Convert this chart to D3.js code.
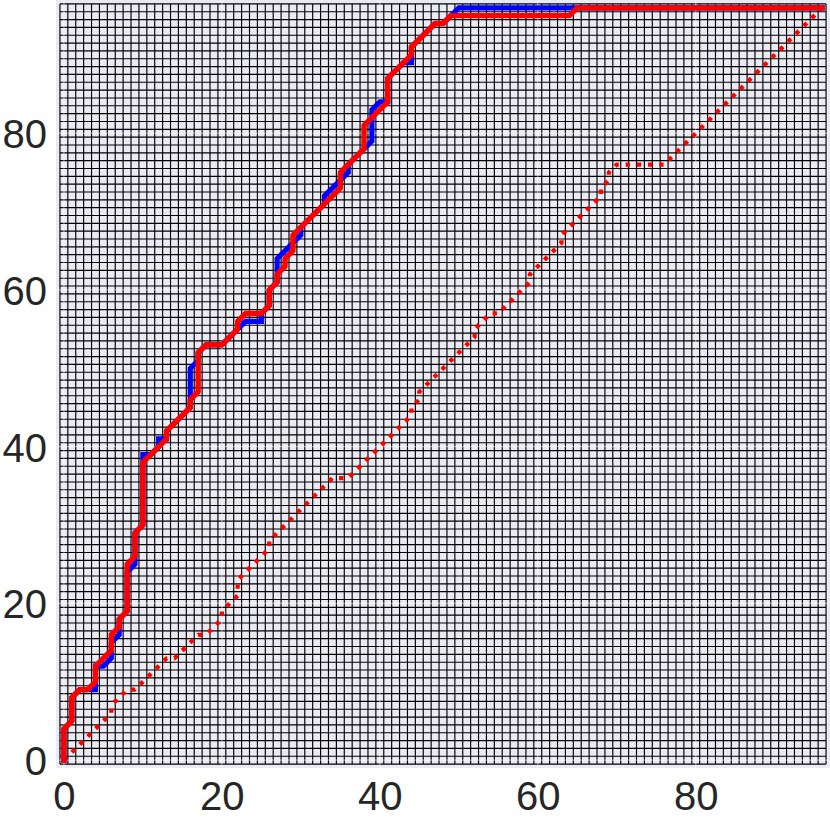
<!DOCTYPE html>
<html>
<head>
<meta charset="utf-8">
<script src="https://cdn.jsdelivr.net/npm/d3@7"></script>
<style>
  html, body { margin: 0; padding: 0; background: #ffffff; }
  svg { display: block; }
</style>
</head>
<body>
<svg id="chart" width="830" height="817"></svg>
<script>
// ---- data ----
const gridCells = 97;               // cost-matrix cells per side (indices 0..96)
const xTicks = [0, 20, 40, 60, 80];
const yTicks = [0, 20, 40, 60, 80];

// warping path A (red, solid) – corner vertices [i, j]
const redPath = [[0,0],[0,4],[1,5],[1,8],[2,9],[3,9],[4,10],[4,12],[6,14],[6,16],[7,17],[7,18],[8,19],[8,25],[9,26],[9,29],[10,30],[10,38],[13,41],[13,42],[16,45],[16,46],[17,47],[17,52],[18,53],[20,53],[22,55],[22,56],[23,57],[25,57],[26,58],[26,60],[27,61],[27,62],[28,63],[28,64],[29,65],[29,67],[35,73],[35,75],[38,78],[38,81],[41,84],[41,87],[44,90],[44,91],[47,94],[48,94],[49,95],[64,95],[65,96],[96,96]];

// warping path B (blue, solid)
const bluePath = [[0,0],[0,4],[1,5],[1,8],[2,9],[4,9],[4,12],[5,12],[6,13],[6,15],[7,16],[7,18],[8,19],[8,24],[9,25],[9,29],[10,30],[10,39],[11,39],[12,40],[12,41],[13,41],[13,42],[16,45],[16,50],[17,51],[17,52],[18,53],[20,53],[22,55],[23,56],[25,56],[25,57],[26,58],[26,60],[27,61],[27,64],[29,66],[30,67],[30,68],[33,71],[33,72],[36,75],[36,76],[38,78],[39,79],[39,83],[40,84],[41,84],[41,87],[43,89],[44,89],[44,91],[47,94],[48,94],[50,96],[96,96]];

// warping path C (red, dotted)
const dottedPath = [[0,0],[6,6],[6,7],[8,9],[9,9],[13,13],[14,13],[17,16],[18,16],[20,18],[20,19],[22,21],[22,23],[26,27],[26,28],[34,36],[36,36],[44,44],[44,45],[45,46],[45,47],[52,54],[52,55],[54,57],[55,57],[59,61],[59,62],[63,66],[63,67],[68,72],[68,73],[69,74],[69,75],[70,76],[76,76],[96,96]];

// ---- layout ----
const svg = d3.select("#chart");
const plot = { left: 56, right: 830, top: 0, bottom: 768 };

const x = d3.scaleLinear().domain([-1, 97]).range([plot.left, plot.right]);
const y = d3.scaleLinear().domain([-1, 97]).range([plot.bottom, plot.top]);

// axes background
svg.append("rect")
  .attr("x", plot.left).attr("y", plot.top)
  .attr("width", plot.right - plot.left).attr("height", plot.bottom - plot.top)
  .attr("fill", "#EAEAF2");

// mesh edges (cells centred on integer indices)
const edges = d3.range(gridCells + 1).map(k => k - 0.5);
const mesh = svg.append("g").attr("stroke", "#000").attr("stroke-width", 1.15);
mesh.selectAll("line.v").data(edges).join("line").attr("class", "v")
  .attr("x1", d => x(d)).attr("x2", d => x(d))
  .attr("y1", y(-0.5)).attr("y2", y(gridCells - 0.5));
mesh.selectAll("line.h").data(edges).join("line").attr("class", "h")
  .attr("y1", d => y(d)).attr("y2", d => y(d))
  .attr("x1", x(-0.5)).attr("x2", x(gridCells - 0.5));

// light style grid lines at the ticks
const gg = svg.append("g").attr("stroke", "#ffffff").attr("stroke-width", 1.3).attr("stroke-opacity", 0.45);
gg.selectAll("line.gx").data(xTicks).join("line").attr("class", "gx")
  .attr("x1", d => x(d)).attr("x2", d => x(d))
  .attr("y1", plot.top).attr("y2", plot.bottom);
gg.selectAll("line.gy").data(yTicks).join("line").attr("class", "gy")
  .attr("y1", d => y(d)).attr("y2", d => y(d))
  .attr("x1", plot.left).attr("x2", plot.right);

// paths
const line = d3.line().x(d => x(d[0])).y(d => y(d[1]));

svg.append("path").datum(dottedPath)
  .attr("d", line).attr("fill", "none")
  .attr("stroke", "#ff0000").attr("stroke-width", 4.3)
  .attr("stroke-dasharray", "4.3,6.9")
  .attr("stroke-linecap", "butt").attr("stroke-linejoin", "round");

svg.append("path").datum(bluePath)
  .attr("d", line).attr("fill", "none")
  .attr("stroke", "#0000ff").attr("stroke-width", 5.2)
  .attr("stroke-linecap", "square").attr("stroke-linejoin", "miter");

svg.append("path").datum(redPath)
  .attr("d", line).attr("fill", "none")
  .attr("stroke", "#ff0000").attr("stroke-width", 5.4)
  .attr("stroke-linecap", "square").attr("stroke-linejoin", "round");

// axes tick labels
const fontFam = "'Liberation Sans', Arial, sans-serif";
const xAxis = d3.axisBottom(x).tickValues(xTicks).tickSize(0).tickPadding(0);
const gx = svg.append("g").attr("transform", `translate(0,${plot.bottom})`).call(xAxis);
gx.select(".domain").remove();
gx.selectAll("text")
  .attr("y", 0).attr("dy", "42px")
  .attr("font-family", fontFam).attr("font-size", 40).attr("fill", "#262626");

const yAxis = d3.axisLeft(y).tickValues(yTicks).tickSize(0).tickPadding(0);
const gy = svg.append("g").attr("transform", `translate(${plot.left},0)`).call(yAxis);
gy.select(".domain").remove();
gy.selectAll("text")
  .attr("x", -9).attr("dy", "14.5px")
  .attr("font-family", fontFam).attr("font-size", 40).attr("fill", "#262626");
</script>
</body>
</html>
